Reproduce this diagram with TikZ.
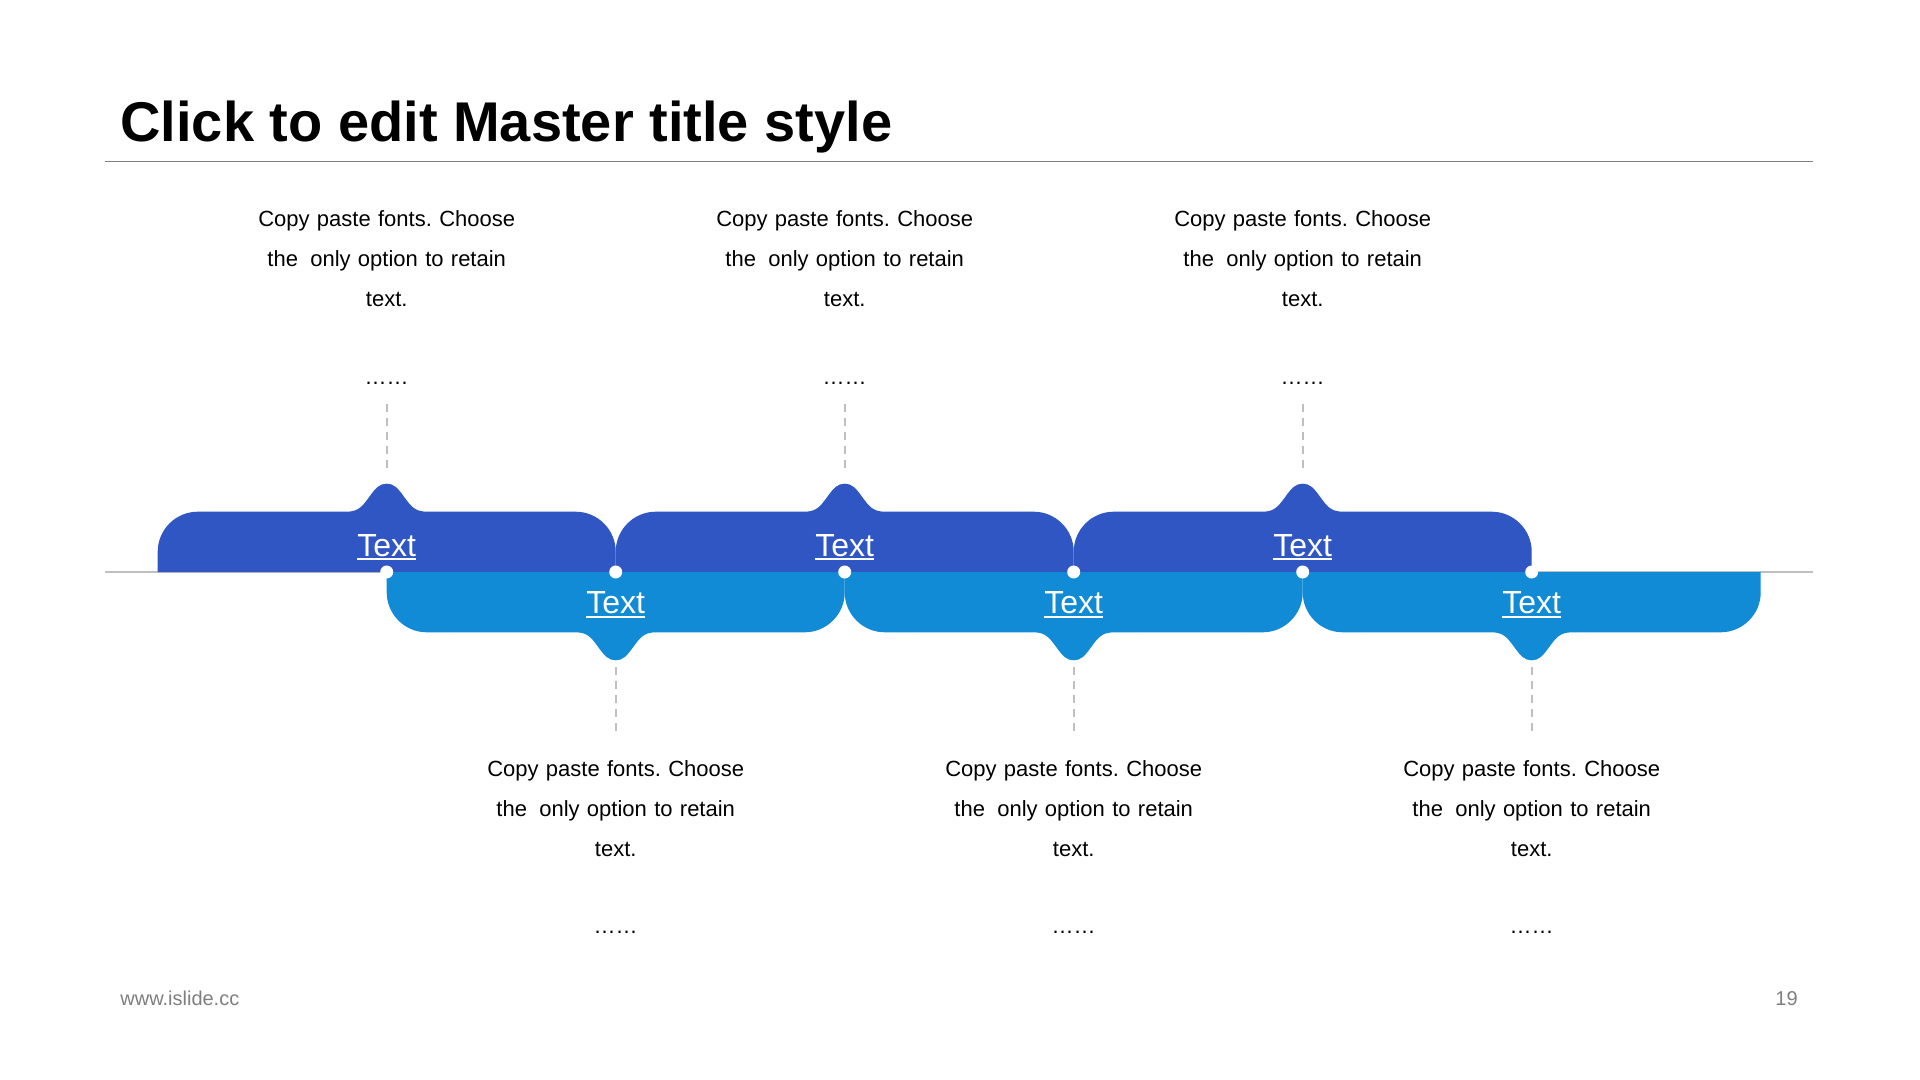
\documentclass[tikz,border=0pt]{standalone}
\usepackage{fontspec}
\setmainfont{Liberation Sans}
\frenchspacing
\definecolor{topblue}{HTML}{3056C4}
\definecolor{botblue}{HTML}{118BD6}
\definecolor{guidegray}{HTML}{BFBFBF}
\definecolor{rulegray}{HTML}{808080}
\definecolor{footgray}{HTML}{7F7F7F}
\newcommand\myul[1]{\setbox0\hbox{#1}\rlap{\rule[-2.2pt]{\wd0}{1pt}}\box0}
\begin{document}
\begin{tikzpicture}[x=0.5pt,y=-0.5pt,
  desc/.style={text width=170pt, align=center, inner sep=0pt, font=\fontsize{11}{19.85}\selectfont, anchor=base},
  more/.style={inner sep=0pt, font=\fontsize{11}{13}\selectfont, anchor=base},
  lbl/.style={inner sep=0pt, text=white, font=\fontsize{16}{19}\selectfont, anchor=base},
  guide/.style={draw=guidegray, line width=1pt, dash pattern=on 4pt off 3pt},
  pin/.style={circle, fill=white, inner sep=0pt, minimum size=6.5pt},
  foot/.style={inner sep=0pt, text=footgray, font=\fontsize{10}{12}\selectfont}]
\useasboundingbox (0,0) rectangle (1920,1080);
\fill[white] (0,0) rectangle (1920,1080);
% title
\node[anchor=base west, inner sep=0pt, font=\fontsize{28}{34}\selectfont\bfseries] (title) at (120,141.7) {Click to edit Master title style};
\coordinate (tl1) at (105,161.6);
\coordinate (tl2) at (1813,161.6);
\draw[rulegray, line width=0.75pt] (tl1) -- (tl2);
% timeline
\coordinate (ax1) at (105,572);
\coordinate (ax2) at (1813,572);
\draw[guidegray, line width=1pt] (ax1) -- (ax2);
% upper shapes
\foreach \c [count=\i] in {386.7,844.7,1302.7} {
  \fill[topblue] ({\c-229},572) -- ({\c-229},551.7)
    .. controls ({\c-229},529.7) and ({\c-211},511.7) .. ({\c-189},511.7)
    -- ({\c-40},511.7)
    .. controls ({\c-28},511.7) and ({\c-24},505.7) .. ({\c-18},497.7)
    .. controls ({\c-11},487.7) and ({\c-7},483.7) .. ({\c},483.7)
    .. controls ({\c+7},483.7) and ({\c+11},487.7) .. ({\c+18},497.7)
    .. controls ({\c+24},505.7) and ({\c+28},511.7) .. ({\c+40},511.7)
    -- ({\c+189},511.7)
    .. controls ({\c+211},511.7) and ({\c+229},529.7) .. ({\c+229},551.7)
    -- ({\c+229},572) -- cycle;
  \node[lbl] (utag\i) at (\c,556) {\myul{Text}};
  \node[desc] (udesc\i) at (\c,226.7) {Copy paste fonts. Choose\\the\hspace{2.5pt} only option to retain\\text.};
  \node[more] (udots\i) at (\c,385) {……};
  \coordinate (ua\i) at (\c,404);
  \coordinate (ub\i) at (\c,469);
  \draw[guide] (ua\i) -- (ub\i);
}
% lower shapes
\foreach \c [count=\i] in {615.7,1073.7,1531.7} {
  \fill[botblue] ({\c-229},572) -- ({\c-229},592.3)
    .. controls ({\c-229},614.3) and ({\c-211},632.3) .. ({\c-189},632.3)
    -- ({\c-40},632.3)
    .. controls ({\c-28},632.3) and ({\c-24},638.3) .. ({\c-18},646.3)
    .. controls ({\c-11},656.3) and ({\c-7},660.3) .. ({\c},660.3)
    .. controls ({\c+7},660.3) and ({\c+11},656.3) .. ({\c+18},646.3)
    .. controls ({\c+24},638.3) and ({\c+28},632.3) .. ({\c+40},632.3)
    -- ({\c+189},632.3)
    .. controls ({\c+211},632.3) and ({\c+229},614.3) .. ({\c+229},592.3)
    -- ({\c+229},572) -- cycle;
  \node[lbl] (ltag\i) at (\c,613.3) {\myul{Text}};
  \node[desc] (ldesc\i) at (\c,776.7) {Copy paste fonts. Choose\\the\hspace{2.5pt} only option to retain\\text.};
  \node[more] (ldots\i) at (\c,933) {……};
  \coordinate (la\i) at (\c,667);
  \coordinate (lb\i) at (\c,731);
  \draw[guide] (la\i) -- (lb\i);
}
% pins on the timeline
\foreach \c [count=\i] in {386.7,615.7,844.7,1073.7,1302.7,1531.7} {
  \node[pin] (pin\i) at (\c,572) {};
}
% footer
\node[foot, anchor=base west] (site) at (120,1005) {www.islide.cc};
\node[foot, anchor=base east] (page) at (1798,1005) {19};
\end{tikzpicture}
\end{document}
